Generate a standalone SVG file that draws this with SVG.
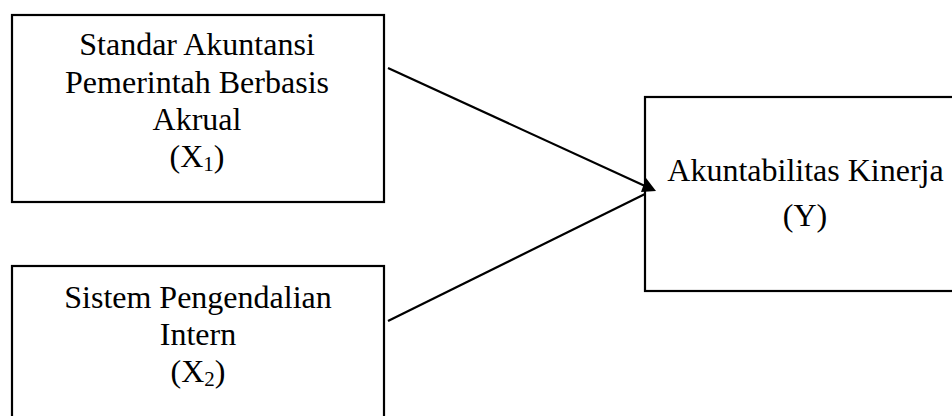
<svg xmlns="http://www.w3.org/2000/svg" width="952" height="416" viewBox="0 0 952 416">
  <style>
    .box { fill: #ffffff; stroke: #000000; stroke-width: 2.2; }
    .lbl { font-family: "Liberation Serif", "Times New Roman", serif; font-size: 32px; fill: #000000; text-anchor: middle; }
    .sub { font-size: 21px; }
    .conn { stroke: #000000; stroke-width: 2.2; fill: none; }
    .head { fill: #000000; stroke: none; }
  </style>
  <rect width="952" height="416" fill="#ffffff"/>
  <g id="node-x1">
    <rect class="box" x="12" y="15" width="372" height="187"/>
    <text class="lbl" x="197" y="55">Standar Akuntansi</text>
    <text class="lbl" x="197" y="92.5">Pemerintah Berbasis</text>
    <text class="lbl" x="197" y="130">Akrual</text>
    <text class="lbl" x="197" y="167">(X<tspan class="sub" dy="4">1</tspan><tspan dy="-4">)</tspan></text>
  </g>
  <g id="node-x2">
    <rect class="box" x="12" y="266" width="372" height="160"/>
    <text class="lbl" x="198" y="308">Sistem Pengendalian</text>
    <text class="lbl" x="198" y="345">Intern</text>
    <text class="lbl" x="198" y="382">(X<tspan class="sub" dy="4">2</tspan><tspan dy="-4">)</tspan></text>
  </g>
  <g id="node-y">
    <rect class="box" x="645" y="97" width="320" height="194"/>
    <text class="lbl" x="805.5" y="181">Akuntabilitas Kinerja</text>
    <text class="lbl" x="805" y="226">(Y)</text>
  </g>
  <g id="connectors">
    <line class="conn" x1="388" y1="68" x2="645" y2="186"/>
    <line class="conn" x1="388" y1="321" x2="645" y2="194"/>
    <polygon class="head" points="646,178 656,191 641,192"/>
  </g>
</svg>
